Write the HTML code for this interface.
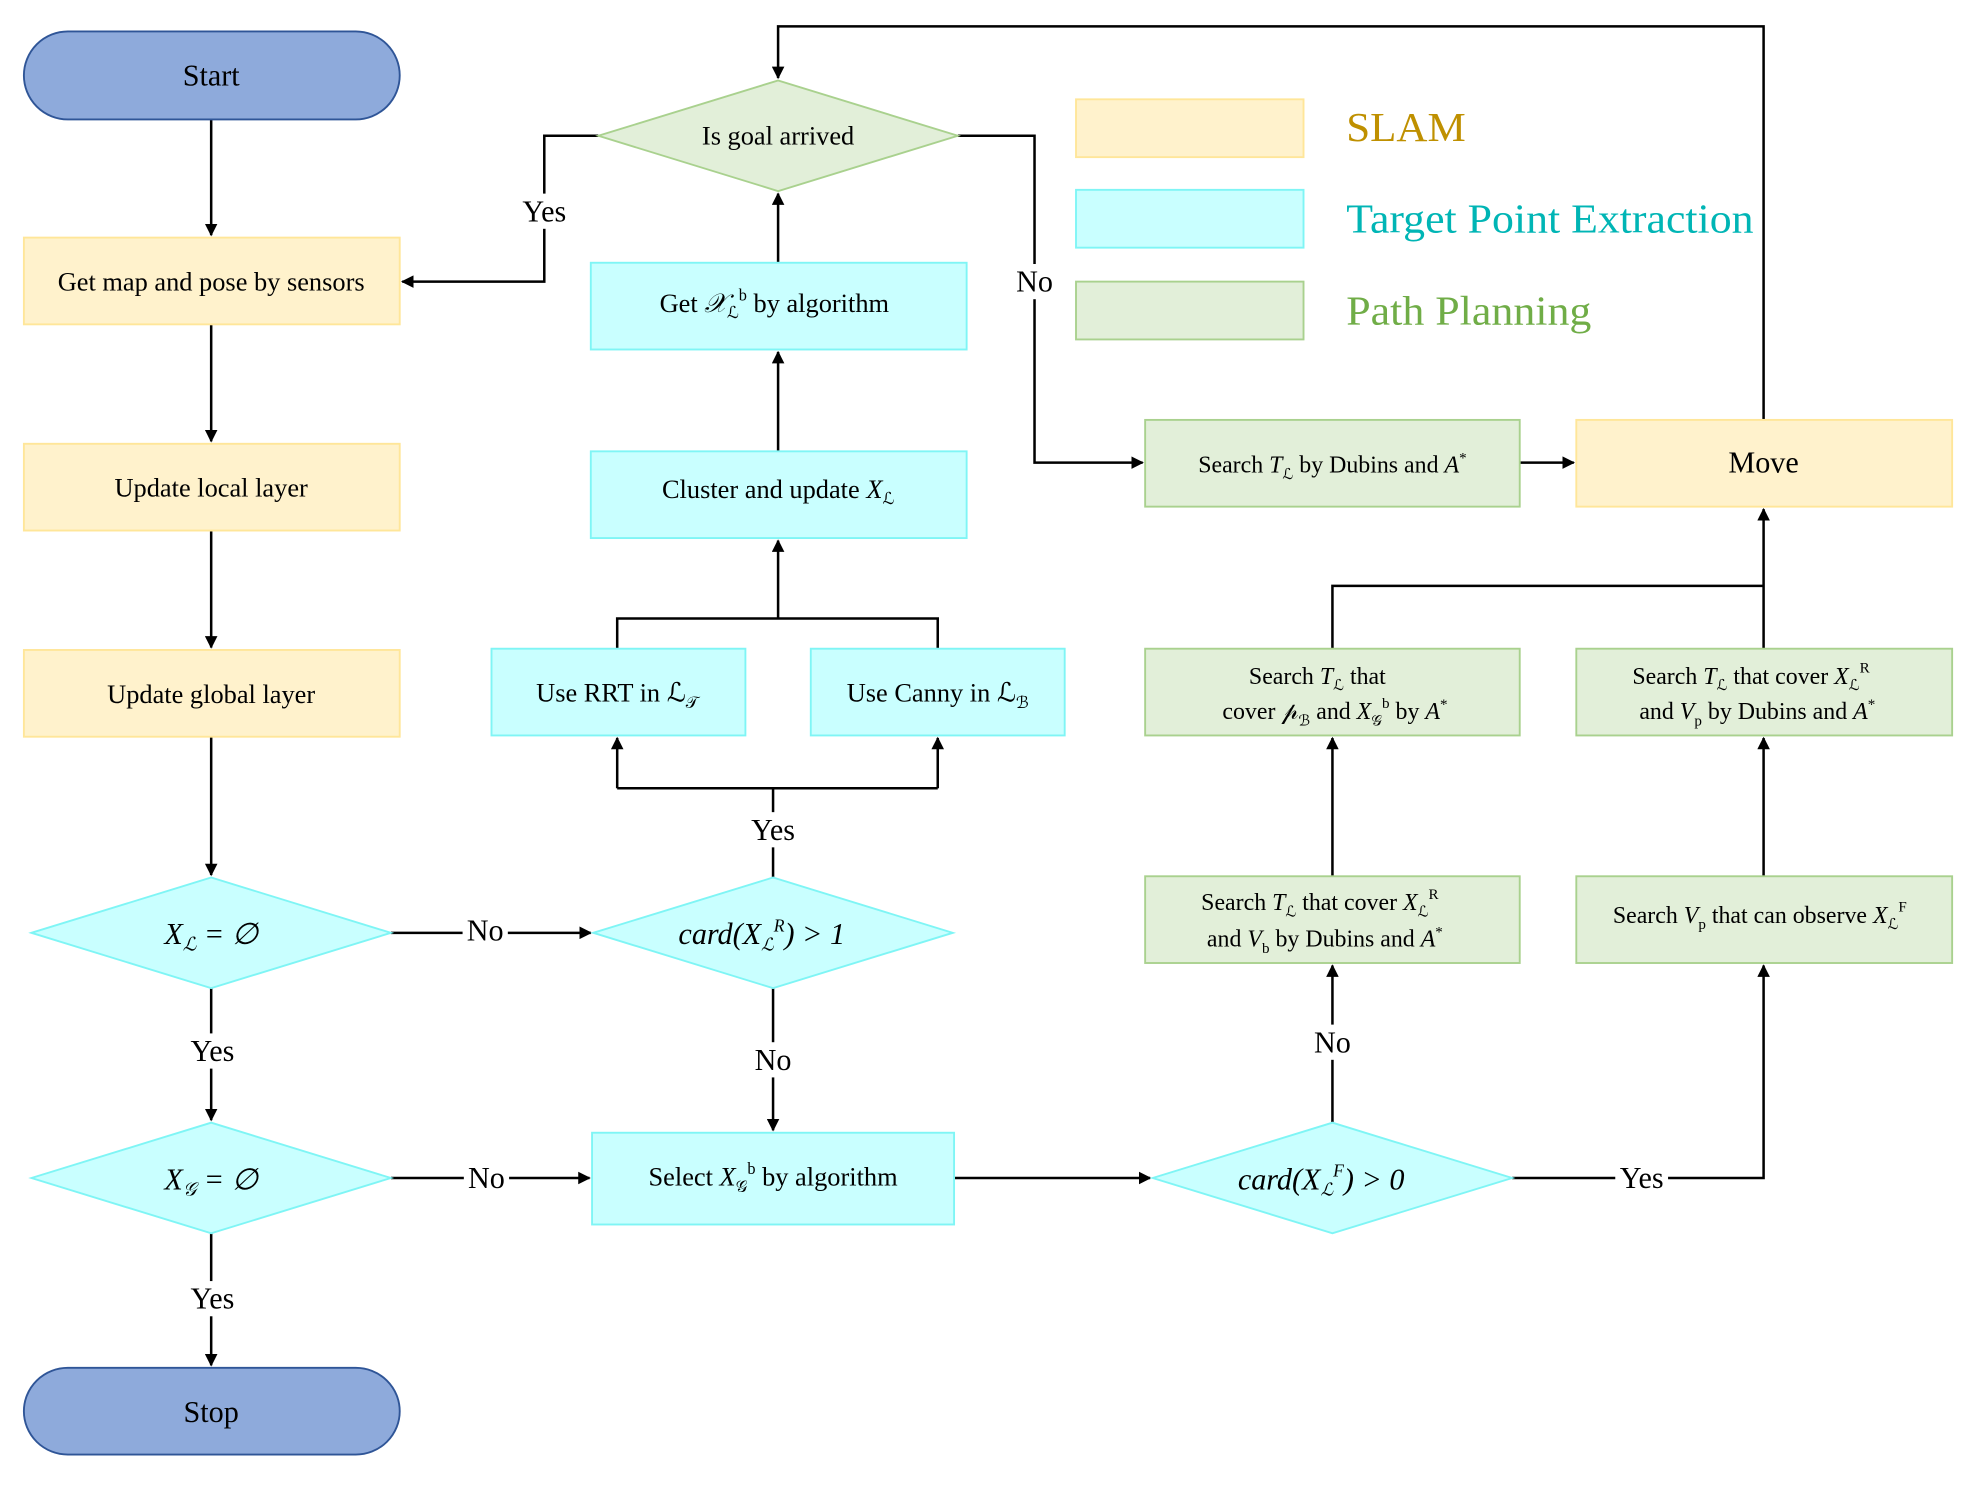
<!DOCTYPE html>
<html><head><meta charset="utf-8"><style>html,body{margin:0;padding:0;background:#fff}svg{display:block}</style></head><body>
<svg width="1971" height="1486" viewBox="0 0 1568 1182" preserveAspectRatio="none" xmlns="http://www.w3.org/2000/svg" font-family="Liberation Serif, serif">
<defs><marker id="a" markerWidth="10" markerHeight="10" refX="9" refY="5" orient="auto" markerUnits="userSpaceOnUse"><path d="M0,0 L10,5 L0,10 z" fill="#000"/></marker></defs>
<g fill="none" stroke="#000" stroke-width="2">
<path d="M168,95V187" marker-end="url(#a)"/><path d="M168,258V351" marker-end="url(#a)"/><path d="M168,422V515" marker-end="url(#a)"/><path d="M168,586V696" marker-end="url(#a)"/>
<path d="M168,786V891" marker-end="url(#a)"/><path d="M168,981V1086" marker-end="url(#a)"/>
<path d="M311,742H470" marker-end="url(#a)"/><path d="M311,937H469" marker-end="url(#a)"/>
<path d="M615,786V899" marker-end="url(#a)"/>
<path d="M615,698V627"/><path d="M491,627H746"/><path d="M491,627V587" marker-end="url(#a)"/><path d="M746,627V587" marker-end="url(#a)"/>
<path d="M491,516V492H746V516"/><path d="M619,492V430" marker-end="url(#a)"/>
<path d="M619,359V280" marker-end="url(#a)"/><path d="M619,209V154" marker-end="url(#a)"/>
<path d="M476,108H433V224H320" marker-end="url(#a)"/>
<path d="M762,108H823V368H909" marker-end="url(#a)"/>
<path d="M1209,368H1252" marker-end="url(#a)"/>
<path d="M1403,334V21H619V62" marker-end="url(#a)"/>
<path d="M759,937H915" marker-end="url(#a)"/>
<path d="M1203,937H1403V768" marker-end="url(#a)"/>
<path d="M1060,893V768" marker-end="url(#a)"/>
<path d="M1060,697V587" marker-end="url(#a)"/><path d="M1403,697V587" marker-end="url(#a)"/>
<path d="M1060,516V466H1403"/><path d="M1403,516V405" marker-end="url(#a)"/>
</g>
<g font-size="24" text-anchor="middle" fill="#000">
<rect x="150" y="822" width="38" height="28" fill="#fff"/><text x="169" y="844">Yes</text>
<rect x="150" y="1019" width="38" height="28" fill="#fff"/><text x="169" y="1041">Yes</text>
<rect x="368" y="728" width="36" height="26" fill="#fff"/><text x="386" y="748">No</text>
<rect x="369" y="924" width="36" height="26" fill="#fff"/><text x="387" y="945">No</text>
<rect x="597" y="829" width="36" height="28" fill="#fff"/><text x="615" y="851">No</text>
<rect x="595" y="646" width="40" height="28" fill="#fff"/><text x="615" y="668">Yes</text>
<rect x="413" y="154" width="40" height="28" fill="#fff"/><text x="433" y="176">Yes</text>
<rect x="805" y="210" width="36" height="28" fill="#fff"/><text x="823" y="232">No</text>
<rect x="1042" y="815" width="36" height="28" fill="#fff"/><text x="1060" y="837">No</text>
<rect x="1285" y="923" width="42" height="28" fill="#fff"/><text x="1306" y="945">Yes</text>
</g>
<rect x="19" y="25" width="299" height="70" rx="35" fill="#8eaadb" stroke="#2f5597" stroke-width="1.5"/>
<rect x="19" y="1088" width="299" height="69" rx="35" fill="#8eaadb" stroke="#2f5597" stroke-width="1.5"/>
<g fill="#fff2cc" stroke="#ffe699" stroke-width="1.5">
<rect x="19" y="189" width="299" height="69"/><rect x="19" y="353" width="299" height="69"/><rect x="19" y="517" width="299" height="69"/><rect x="1254" y="334" width="299" height="69"/><rect x="856" y="79" width="181" height="46"/></g>
<g fill="#c9ffff" stroke="#7ff5f5" stroke-width="1.5">
<path d="M25,742L168,698L311,742L168,786Z"/><path d="M25,937L168,893L311,937L168,981Z"/>
<path d="M472,742L615,698L758,742L615,786Z"/><path d="M917,937L1060,893L1203,937L1060,981Z"/>
<rect x="471" y="901" width="288" height="73"/><rect x="391" y="516" width="202" height="69"/><rect x="645" y="516" width="202" height="69"/>
<rect x="470" y="359" width="299" height="69"/><rect x="470" y="209" width="299" height="69"/><rect x="856" y="151" width="181" height="46"/></g>
<g fill="#e2efd9" stroke="#a9d18e" stroke-width="1.5">
<path d="M476,108L619,64L762,108L619,152Z"/>
<rect x="911" y="334" width="298" height="69"/><rect x="911" y="516" width="298" height="69"/><rect x="1254" y="516" width="299" height="69"/>
<rect x="911" y="697" width="298" height="69"/><rect x="1254" y="697" width="299" height="69"/><rect x="856" y="224" width="181" height="46"/></g>
<g font-size="22" text-anchor="middle" fill="#000">
<text x="168" y="68" font-size="24">Start</text><text x="168" y="1131" font-size="24">Stop</text>
<text x="168" y="231" font-size="21">Get map and pose by sensors</text>
<text x="168" y="395" font-size="21">Update local layer</text>
<text x="168" y="559" font-size="21">Update global layer</text>
<text x="619" y="115" font-size="21">Is goal arrived</text>
<text x="1403" y="376" font-size="24">Move</text>
<text x="168" y="751" font-size="24" font-style="italic">X<tspan font-size="15" dy="5">ℒ</tspan><tspan dy="-5"> = ∅</tspan></text>
<text x="168" y="946" font-size="24" font-style="italic">X<tspan font-size="15" dy="5">𝒢</tspan><tspan dy="-5"> = ∅</tspan></text>
<text x="606" y="751" font-size="24" font-style="italic">card(X<tspan font-size="14" dy="5">ℒ</tspan><tspan font-size="14" dy="-15">R</tspan><tspan dy="10">) &gt; 1</tspan></text>
<text x="1051" y="946" font-size="24" font-style="italic">card(X<tspan font-size="14" dy="5">ℒ</tspan><tspan font-size="14" dy="-15">F</tspan><tspan dy="10">) &gt; 0</tspan></text>
<text x="615" y="943" font-size="21">Select <tspan font-style="italic">X</tspan><tspan font-size="13" dy="5">𝒢</tspan><tspan font-size="13" dy="-14">b</tspan><tspan dy="9"> by algorithm</tspan></text>
<text x="491" y="558" font-size="21">Use RRT in ℒ<tspan font-size="13" dy="5">𝒯</tspan></text>
<text x="746" y="558" font-size="21">Use Canny in ℒ<tspan font-size="13" dy="5">ℬ</tspan></text>
<text x="619" y="396" font-size="21">Cluster and update <tspan font-style="italic">X</tspan><tspan font-size="13" dy="5">ℒ</tspan></text>
<text x="616" y="248" font-size="21">Get <tspan font-style="italic">𝒳</tspan><tspan font-size="13" dy="5">ℒ</tspan><tspan font-size="13" dy="-14">b</tspan><tspan dy="9"> by algorithm</tspan></text>
<text x="1060" y="376" font-size="19">Search <tspan font-style="italic">T</tspan><tspan font-size="12" dy="5">ℒ</tspan><tspan dy="-5"> by Dubins and </tspan><tspan font-style="italic">A</tspan><tspan font-size="12" dy="-8">*</tspan></text>
<text x="1048" y="544" font-size="19">Search <tspan font-style="italic">T</tspan><tspan font-size="12" dy="5">ℒ</tspan><tspan dy="-5"> that</tspan></text>
<text x="1062" y="572" font-size="19">cover 𝓅<tspan font-size="12" dy="5">ℬ</tspan><tspan dy="-5"> and </tspan><tspan font-style="italic">X</tspan><tspan font-size="12" dy="5">𝒢</tspan><tspan font-size="12" dy="-14">b</tspan><tspan dy="9"> by </tspan><tspan font-style="italic">A</tspan><tspan font-size="12" dy="-8">*</tspan></text>
<text x="1393" y="544" font-size="19">Search <tspan font-style="italic">T</tspan><tspan font-size="12" dy="5">ℒ</tspan><tspan dy="-5"> that cover </tspan><tspan font-style="italic">X</tspan><tspan font-size="12" dy="5">ℒ</tspan><tspan font-size="12" dy="-14">R</tspan></text>
<text x="1398" y="572" font-size="19">and  <tspan font-style="italic">V</tspan><tspan font-size="12" dy="5">p</tspan><tspan dy="-5"> by Dubins and </tspan><tspan font-style="italic">A</tspan><tspan font-size="12" dy="-8">*</tspan></text>
<text x="1050" y="724" font-size="19">Search <tspan font-style="italic">T</tspan><tspan font-size="12" dy="5">ℒ</tspan><tspan dy="-5"> that cover </tspan><tspan font-style="italic">X</tspan><tspan font-size="12" dy="5">ℒ</tspan><tspan font-size="12" dy="-14">R</tspan></text>
<text x="1054" y="753" font-size="19">and <tspan font-style="italic">V</tspan><tspan font-size="12" dy="5">b</tspan><tspan dy="-5"> by Dubins and </tspan><tspan font-style="italic">A</tspan><tspan font-size="12" dy="-8">*</tspan></text>
<text x="1400" y="734" font-size="19">Search <tspan font-style="italic">V</tspan><tspan font-size="12" dy="5">p</tspan><tspan dy="-5"> that can observe </tspan><tspan font-style="italic">X</tspan><tspan font-size="12" dy="5">ℒ</tspan><tspan font-size="12" dy="-14">F</tspan></text>
</g>
<g font-size="33" text-anchor="start">
<text x="1071" y="112" fill="#bf9000" textLength="95" lengthAdjust="spacingAndGlyphs">SLAM</text>
<text x="1071" y="185" fill="#00b5b5" textLength="324" lengthAdjust="spacingAndGlyphs">Target Point Extraction</text>
<text x="1071" y="258" fill="#70ad47" textLength="195" lengthAdjust="spacingAndGlyphs">Path Planning</text>
</g>
</svg>
</body></html>
